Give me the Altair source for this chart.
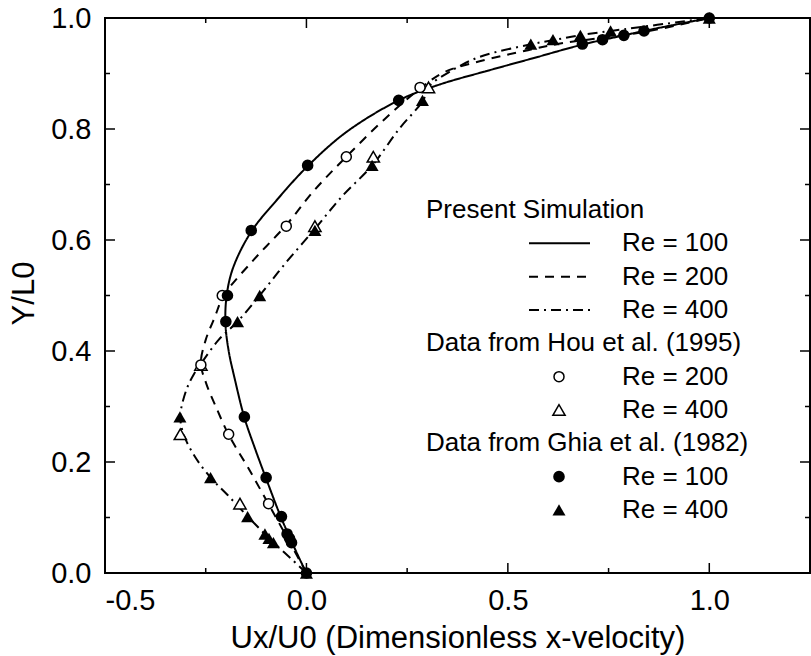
import altair as alt
import pandas as pd

# ---------------- data ----------------
# Present simulation (lines)
sim100_u = [0.0, -0.02, -0.04, -0.063, -0.10, -0.128, -0.154, -0.178, -0.193, -0.201, -0.198, -0.182, -0.137, -0.07, 0.003, 0.10, 0.23, 0.33, 0.45, 0.56, 0.69, 0.79, 0.84, 1.0]
sim100_v = [0.0, 0.03, 0.062, 0.10, 0.17, 0.225, 0.28, 0.35, 0.40, 0.45, 0.50, 0.55, 0.615, 0.675, 0.733, 0.795, 0.852, 0.88, 0.905, 0.927, 0.953, 0.969, 0.977, 1.0]

sim200_u = [0.0, -0.045, -0.094, -0.145, -0.193, -0.225, -0.248, -0.262, -0.25, -0.228, -0.205, -0.13, -0.05, 0.02, 0.099, 0.19, 0.282, 0.344, 0.43, 0.55, 0.63, 0.72, 0.84, 1.0]
sim200_v = [0.0, 0.06, 0.124, 0.19, 0.249, 0.30, 0.34, 0.377, 0.42, 0.46, 0.50, 0.565, 0.627, 0.69, 0.75, 0.815, 0.873, 0.903, 0.922, 0.942, 0.954, 0.963, 0.975, 1.0]

sim400_u = [0.0, -0.04, -0.082, -0.103, -0.146, -0.195, -0.238, -0.277, -0.305, -0.313, -0.298, -0.278, -0.262, -0.218, -0.171, -0.116, -0.05, 0.021, 0.09, 0.163, 0.23, 0.29, 0.303, 0.36, 0.43, 0.56, 0.62, 0.68, 0.76, 1.0]
sim400_v = [0.0, 0.027, 0.055, 0.07, 0.102, 0.14, 0.172, 0.21, 0.25, 0.283, 0.33, 0.36, 0.377, 0.42, 0.453, 0.50, 0.56, 0.62, 0.68, 0.734, 0.80, 0.852, 0.876, 0.905, 0.93, 0.953, 0.961, 0.969, 0.977, 1.0]

# Hou et al. (1995)
hou200_u = [-0.094, -0.193, -0.262, -0.209, -0.050, 0.099, 0.282]
hou200_v = [0.125, 0.25, 0.375, 0.50, 0.625, 0.75, 0.875]
hou400_u = [-0.165, -0.313, -0.262, 0.021, 0.166, 0.303]
hou400_v = [0.125, 0.25, 0.375, 0.625, 0.75, 0.875]

# Ghia et al. (1982), as plotted
ghia_v = [0.0, 0.0547, 0.0625, 0.0703, 0.1016, 0.1719, 0.2813, 0.4531, 0.5, 0.6172, 0.7344, 0.8516, 0.9531, 0.9609, 0.9688, 0.9766, 1.0]
ghia100_u = [0.0, -0.037, -0.042, -0.048, -0.062, -0.100, -0.154, -0.200, -0.196, -0.137, 0.003, 0.229, 0.685, 0.735, 0.788, 0.838, 1.0]
ghia400_u = [0.0, -0.082, -0.093, -0.103, -0.146, -0.238, -0.314, -0.171, -0.116, 0.021, 0.163, 0.288, 0.557, 0.612, 0.680, 0.755, 1.0]

x_ticks_major = [-0.5, 0.0, 0.5, 1.0]
x_ticks_minor = [-0.25, 0.25, 0.75]
y_ticks_major = [0.0, 0.2, 0.4, 0.6, 0.8, 1.0]
y_ticks_minor = [0.1, 0.3, 0.5, 0.7, 0.9]

legend_rows = [
    ("header", "Present Simulation"),
    ("solid", "Re = 100"),
    ("dash", "Re = 200"),
    ("dashdot", "Re = 400"),
    ("header", "Data from Hou et al. (1995)"),
    ("ocircle", "Re = 200"),
    ("otriangle", "Re = 400"),
    ("header", "Data from Ghia et al. (1982)"),
    ("fcircle", "Re = 100"),
    ("ftriangle", "Re = 400"),
]

# ---------------- chart ----------------
FONT = "Liberation Sans"
W, H = 705, 555
XD = [-0.5, 1.25]
YD = [0.0, 1.0]

xs = alt.Scale(domain=XD, nice=False, zero=False)
ys = alt.Scale(domain=YD, nice=False, zero=False)

DASH = [9, 7]
DASHDOT = [10, 5, 2, 5]
LABEL_EXPR = "datum.value < 0 ? '-' + format(-datum.value, '.1f') : format(datum.value, '.1f')"


def line_layer(u, v, dash):
    df = pd.DataFrame({"u": u, "v": v, "i": list(range(len(u)))})
    return alt.Chart(df).mark_line(
        color="black", strokeWidth=2, strokeDash=dash, interpolate="catmull-rom"
    ).encode(
        x=alt.X("u:Q", scale=xs),
        y=alt.Y("v:Q", scale=ys),
        order="i:Q",
    )


def pt_layer(u, v, shape, filled, size):
    df = pd.DataFrame({"u": u, "v": v})
    return alt.Chart(df).mark_point(
        shape=shape, filled=filled, size=size, color="black",
        fill="black" if filled else "white", fillOpacity=1, opacity=1,
        strokeWidth=0 if filled else 1.5,
    ).encode(
        x=alt.X("u:Q", scale=xs),
        y=alt.Y("v:Q", scale=ys),
    )


base_df = pd.DataFrame({"u": [XD[0], XD[1]], "v": [YD[0], YD[1]]})
axes = alt.Chart(base_df).mark_point(opacity=0).encode(
    x=alt.X("u:Q", scale=xs, title="Ux/U0 (Dimensionless x-velocity)",
            axis=alt.Axis(values=x_ticks_major, labelExpr=LABEL_EXPR, labelFontSize=29,
                          labelPadding=13, titleFontSize=31,
                          titleBaseline="alphabetic", titleY=74)),
    y=alt.Y("v:Q", scale=ys, title="Y/L0",
            axis=alt.Axis(values=y_ticks_major, format=".1f", labelFontSize=29,
                          labelPadding=14, titleFontSize=31,
                          titleBaseline="alphabetic", titleX=-72, titleY=275,
                          titleAlign="center")),
)

layers = [axes]

# tick marks (inward)
def xtick(vals, length, top):
    df = pd.DataFrame({"u": vals})
    y0, y1 = (0, length) if top else (H, H - length)
    return alt.Chart(df).mark_rule(color="black", strokeWidth=1.5).encode(
        x=alt.X("u:Q", scale=xs), y=alt.value(y0), y2=alt.value(y1))


def ytick(vals, length, right):
    df = pd.DataFrame({"v": vals})
    x0, x1 = (W, W - length) if right else (0, length)
    return alt.Chart(df).mark_rule(color="black", strokeWidth=1.5).encode(
        y=alt.Y("v:Q", scale=ys), x=alt.value(x0), x2=alt.value(x1))


for top in (False, True):
    layers.append(xtick(x_ticks_major, 10, top))
    layers.append(xtick(x_ticks_minor, 5, top))
for right in (False, True):
    layers.append(ytick(y_ticks_major, 10, right))
    layers.append(ytick(y_ticks_minor, 5, right))

layers += [
    line_layer(sim100_u, sim100_v, [1, 0]),
    line_layer(sim200_u, sim200_v, DASH),
    line_layer(sim400_u, sim400_v, DASHDOT),
    pt_layer(hou400_u, hou400_v, "triangle-up", False, 150),
    pt_layer(hou200_u, hou200_v, "circle", False, 100),
    pt_layer(ghia400_u, ghia_v, "triangle-up", True, 170),
    pt_layer(ghia100_u, ghia_v, "circle", True, 135),
]

# legend (drawn manually)
one = pd.DataFrame({"a": [0]})
HEADER_X = 321
TEXT_X = 517
SAMPLE_X0, SAMPLE_X1 = 424, 485
MARK_X = 454
ROW0, STEP = 192, 33.33
for i, (kind, label) in enumerate(legend_rows):
    yy = ROW0 + STEP * i
    tx = HEADER_X if kind == "header" else TEXT_X
    layers.append(alt.Chart(one).mark_text(
        text=label, align="left", baseline="middle", font=FONT, fontSize=26,
        color="black").encode(x=alt.value(tx), y=alt.value(yy)))
    if kind in ("solid", "dash", "dashdot"):
        dash = {"solid": [1, 0], "dash": DASH, "dashdot": DASHDOT}[kind]
        layers.append(alt.Chart(one).mark_rule(
            color="black", strokeWidth=2, strokeDash=dash).encode(
            x=alt.value(SAMPLE_X0), x2=alt.value(SAMPLE_X1), y=alt.value(yy)))
    elif kind != "header":
        shape = "circle" if "circle" in kind else "triangle-up"
        filled = kind.startswith("f")
        size = (135 if shape == "circle" else 170) if filled else (100 if shape == "circle" else 150)
        layers.append(alt.Chart(one).mark_point(
            shape=shape, filled=filled, size=size, color="black",
            fill="black" if filled else "white", fillOpacity=1, opacity=1,
            strokeWidth=0 if filled else 1.5).encode(
            x=alt.value(MARK_X), y=alt.value(yy)))

chart = alt.layer(*layers).properties(
    width=W, height=H,
    autosize=alt.AutoSizeParams(type="none"),
    padding={"left": 105, "top": 18, "right": 1, "bottom": 83},
    background="white",
).configure_view(
    stroke="black", strokeWidth=2
).configure_axis(
    domain=False, ticks=False, grid=False, labelColor="black", titleColor="black",
    labelFont=FONT, titleFont=FONT, titleFontWeight="normal",
)

chart.save("out.html", embed_options={"renderer": "svg", "actions": False})
